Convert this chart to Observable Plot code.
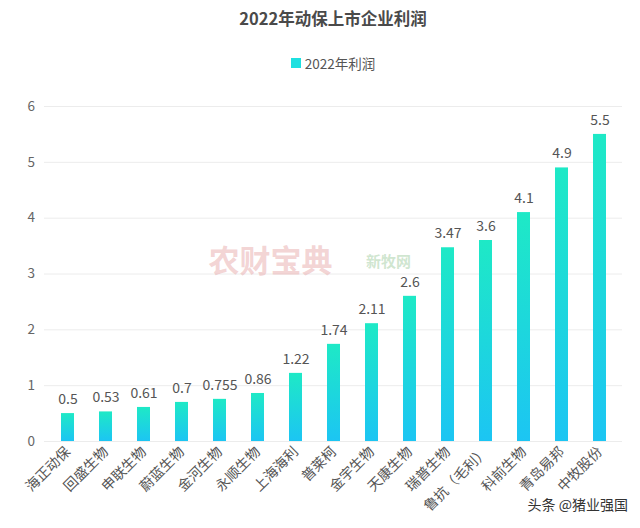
<!DOCTYPE html>
<html><head><meta charset="utf-8">
<script src="https://cdn.jsdelivr.net/npm/d3@7"></script>
<script src="https://cdn.jsdelivr.net/npm/@observablehq/plot@0.6"></script>
<style>
body{margin:0;background:#fff;font-family:"Noto Sans CJK SC","Noto Sans",sans-serif;width:640px;height:528px;overflow:hidden;position:relative}
#title{height:40px;line-height:36px;text-align:center;padding-left:26px;font-size:16.5px;font-weight:bold;color:#4a4a4a}
#legend{height:50px;display:flex;justify-content:center;align-items:center;padding-left:26px;padding-bottom:4px;box-sizing:border-box;font-size:13.5px;color:#555}
#legend span.sw{display:inline-block;width:10px;height:10px;background:#1ee0e0;margin-right:4px}
#wm{position:absolute;right:12px;bottom:14px;font-size:14px;color:#333}
</style></head>
<body>
<div id="title"></div>
<div id="legend"><span class="sw"></span><span id="legtext"></span></div>
<div id="chart"></div>
<div id="wm"></div>
<script>
const title = "2022年动保上市企业利润";
const seriesName = "2022年利润";
const companies = ["海正动保","回盛生物","申联生物","蔚蓝生物","金河生物","永顺生物","上海海利","普莱柯","金宇生物","天康生物","瑞普生物","鲁抗（毛利）","科前生物","青岛易邦","中牧股份"];
const profits = [0.5,0.53,0.61,0.7,0.755,0.86,1.22,1.74,2.11,2.6,3.47,3.6,4.1,4.9,5.5];
const yTicks = [0,1,2,3,4,5,6];
const watermarks = ["农财宝典","新牧网"];
const credit = "头条 @猪业强国";

document.getElementById("title").textContent = title;
document.getElementById("legtext").textContent = seriesName;
document.getElementById("wm").textContent = credit;

const data = companies.map((c,i)=>({company:c, value:profits[i]}));

const chart = Plot.plot({
  width: 640,
  height: 438,
  marginTop: 16,
  marginBottom: 87,
  marginLeft: 44,
  marginRight: 18,
  style: {fontFamily: '"Noto Sans CJK SC","Noto Sans",sans-serif', fontSize: "13px", color: "#555", background: "#fff"},
  x: {domain: companies, paddingInner: 0.66, paddingOuter: 0.33, label: null},
  y: {domain: [0,6], ticks: yTicks, label: null},
  marks: [
    Plot.gridY(yTicks, {stroke: "#ececec", strokeOpacity: 1}),
    Plot.text([watermarks[0]], {frameAnchor: "middle", dx: -63, dy: -12, text: d=>d, fill: "#e9b0b0", fillOpacity: 0.55, fontSize: 31, fontWeight: "bold"}),
    Plot.text([watermarks[1]], {frameAnchor: "middle", dx: 55, dy: -12, text: d=>d, fill: "#a8d0a8", fillOpacity: 0.55, fontSize: 15, fontWeight: "bold"}),
    Plot.barY(data, {x: "company", y: "value", fill: "url(#barGrad)"}),
    Plot.text(data, {x: "company", y: "value", text: d=>String(d.value), dy: -14, fill: "#555", fontSize: 14}),
    Plot.axisY({ticks: yTicks, tickFormat: d3.format("d"), tickSize: 0, tickPadding: 17, textAnchor: "start", fill: "#666", fontSize: 13.5}),
    Plot.axisX({tickSize: 0, tickRotate: -45, tickPadding: 8, fill: "#555", fontSize: 14})
  ]
});

const ns = "http://www.w3.org/2000/svg";
const svg = chart.tagName.toLowerCase()==="svg" ? chart : chart.querySelector("svg");
const defs = document.createElementNS(ns,"defs");
const lg = document.createElementNS(ns,"linearGradient");
lg.setAttribute("id","barGrad");
lg.setAttribute("x1","0");lg.setAttribute("y1","0");lg.setAttribute("x2","0");lg.setAttribute("y2","1");
[["0%","#1ee9c6"],["100%","#1cc5f3"]].forEach(([o,c])=>{
  const s=document.createElementNS(ns,"stop");s.setAttribute("offset",o);s.setAttribute("stop-color",c);lg.appendChild(s);
});
defs.appendChild(lg);
svg.insertBefore(defs, svg.firstChild);
document.getElementById("chart").appendChild(chart);
</script>
</body></html>
